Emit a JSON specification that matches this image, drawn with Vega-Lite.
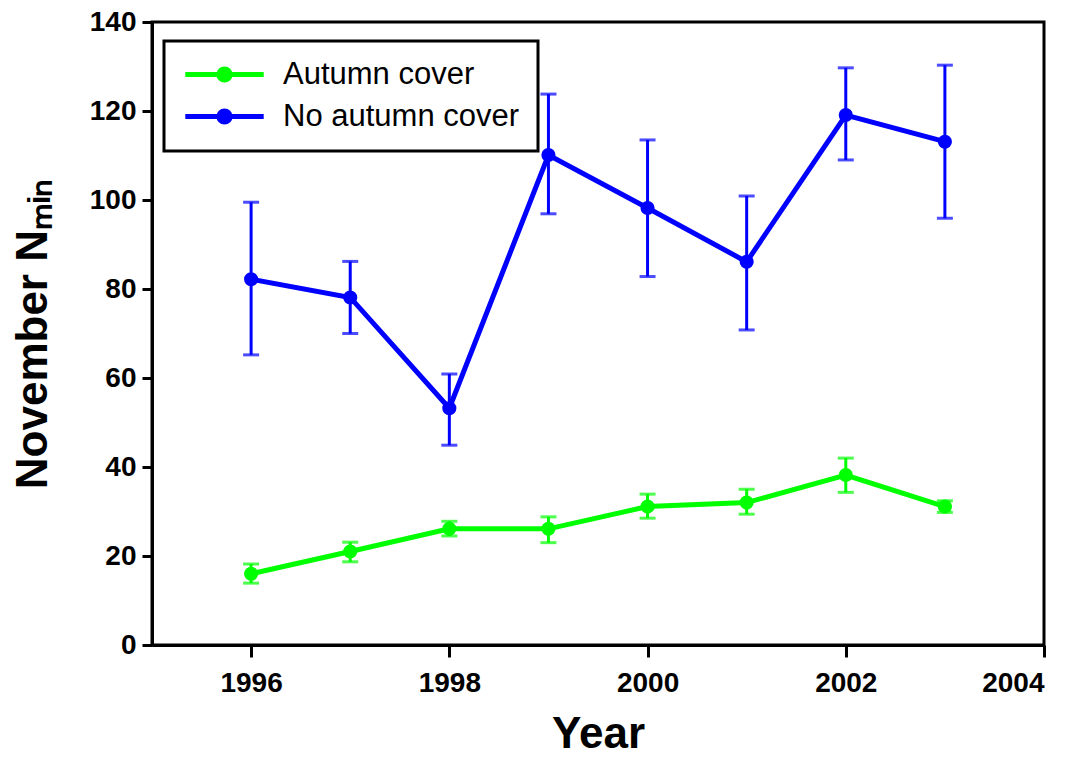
{
  "$schema": "https://vega.github.io/schema/vega-lite/v6.json",
  "width": 892,
  "height": 623,
  "autosize": {"type": "none"},
  "padding": {"left": 152, "top": 22, "right": 35, "bottom": 112},
  "background": "white",
  "config": {
    "font": "Liberation Sans",
    "view": {"stroke": "black", "strokeWidth": 3},
    "axis": {
      "grid": false,
      "domainColor": "black",
      "domainWidth": 3,
      "tickColor": "black",
      "tickWidth": 3,
      "labelFont": "Liberation Sans",
      "labelFontSize": 28,
      "labelFontWeight": "bold",
      "labelColor": "black",
      "titleFont": "Liberation Sans",
      "titleFontSize": 44,
      "titleFontWeight": "bold",
      "titleColor": "black"
    }
  },
  "data": {
    "values": [
      {"year": 1996, "series": "Autumn cover", "value": 16.0, "lo": 13.9, "hi": 18.2},
      {"year": 1997, "series": "Autumn cover", "value": 21.0, "lo": 18.7, "hi": 23.1},
      {"year": 1998, "series": "Autumn cover", "value": 26.1, "lo": 24.5, "hi": 27.8},
      {"year": 1999, "series": "Autumn cover", "value": 26.1, "lo": 23.0, "hi": 28.8},
      {"year": 2000, "series": "Autumn cover", "value": 31.1, "lo": 28.5, "hi": 33.9},
      {"year": 2001, "series": "Autumn cover", "value": 32.0, "lo": 29.4, "hi": 35.0},
      {"year": 2002, "series": "Autumn cover", "value": 38.2, "lo": 34.3, "hi": 42.0},
      {"year": 2003, "series": "Autumn cover", "value": 31.1, "lo": 29.8, "hi": 32.4},
      {"year": 1996, "series": "No autumn cover", "value": 82.2, "lo": 65.2, "hi": 99.5},
      {"year": 1997, "series": "No autumn cover", "value": 78.1, "lo": 70.0, "hi": 86.2},
      {"year": 1998, "series": "No autumn cover", "value": 53.2, "lo": 44.9, "hi": 60.9},
      {"year": 1999, "series": "No autumn cover", "value": 110.1, "lo": 96.9, "hi": 123.8},
      {"year": 2000, "series": "No autumn cover", "value": 98.2, "lo": 82.8, "hi": 113.5},
      {"year": 2001, "series": "No autumn cover", "value": 86.1, "lo": 70.8, "hi": 100.9},
      {"year": 2002, "series": "No autumn cover", "value": 119.1, "lo": 109.0, "hi": 129.7},
      {"year": 2003, "series": "No autumn cover", "value": 113.1, "lo": 95.9, "hi": 130.3}
    ]
  },
  "encoding": {
    "x": {
      "field": "year",
      "type": "quantitative",
      "scale": {"domain": [1995, 2004], "nice": false, "zero": false},
      "axis": {
        "title": "Year",
        "values": [1996, 1998, 2000, 2002, 2004],
        "format": "d",
        "tickSize": 12,
        "labelPadding": 12,
        "titlePadding": 15
      }
    },
    "color": {
      "field": "series",
      "type": "nominal",
      "scale": {"domain": ["Autumn cover", "No autumn cover"], "range": ["#00ff00", "#0000ff"]},
      "legend": {
        "title": null,
        "orient": "none",
        "legendX": 12,
        "legendY": 19,
        "padding": 18,
        "strokeColor": "black",
        "labelFont": "Liberation Sans",
        "labelFontSize": 31,
        "labelFontWeight": "normal",
        "labelColor": "black",
        "labelLimit": 500,
        "rowPadding": 9,
        "symbolType": "M-5.6,0H5.6M-0.8,0A0.8,0.8,0,1,0,0.8,0A0.8,0.8,0,1,0,-0.8,0Z",
        "symbolSize": 196,
        "symbolStrokeWidth": 5,
        "symbolOffset": 27,
        "labelOffset": 43,
        "encode": {
          "legend": {"update": {"stroke": {"value": "black"}, "strokeWidth": {"value": 3}}},
          "symbols": {"update": {"fill": {"scale": "color", "field": "value"}, "fillOpacity": {"value": 1}, "opacity": {"value": 1}}}
        }
      }
    }
  },
  "layer": [
    {
      "mark": {"type": "rule", "strokeWidth": 3},
      "encoding": {
        "y": {"field": "lo", "type": "quantitative"},
        "y2": {"field": "hi"}
      }
    },
    {
      "mark": {"type": "tick", "orient": "horizontal", "size": 16, "thickness": 3},
      "encoding": {"y": {"field": "lo", "type": "quantitative"}}
    },
    {
      "mark": {"type": "tick", "orient": "horizontal", "size": 16, "thickness": 3},
      "encoding": {"y": {"field": "hi", "type": "quantitative"}}
    },
    {
      "mark": {"type": "line", "strokeWidth": 5},
      "encoding": {
        "y": {
          "field": "value",
          "type": "quantitative",
          "scale": {"domain": [0, 140], "nice": false},
          "axis": {
            "title": "November Nₘᵢₙ",
            "values": [0, 20, 40, 60, 80, 100, 120, 140],
            "tickSize": 10,
            "labelPadding": 6,
            "titlePadding": 34
          }
        }
      }
    },
    {
      "mark": {"type": "point", "filled": true, "opacity": 1, "size": 200, "shape": "circle"},
      "encoding": {"y": {"field": "value", "type": "quantitative"}}
    }
  ]
}
